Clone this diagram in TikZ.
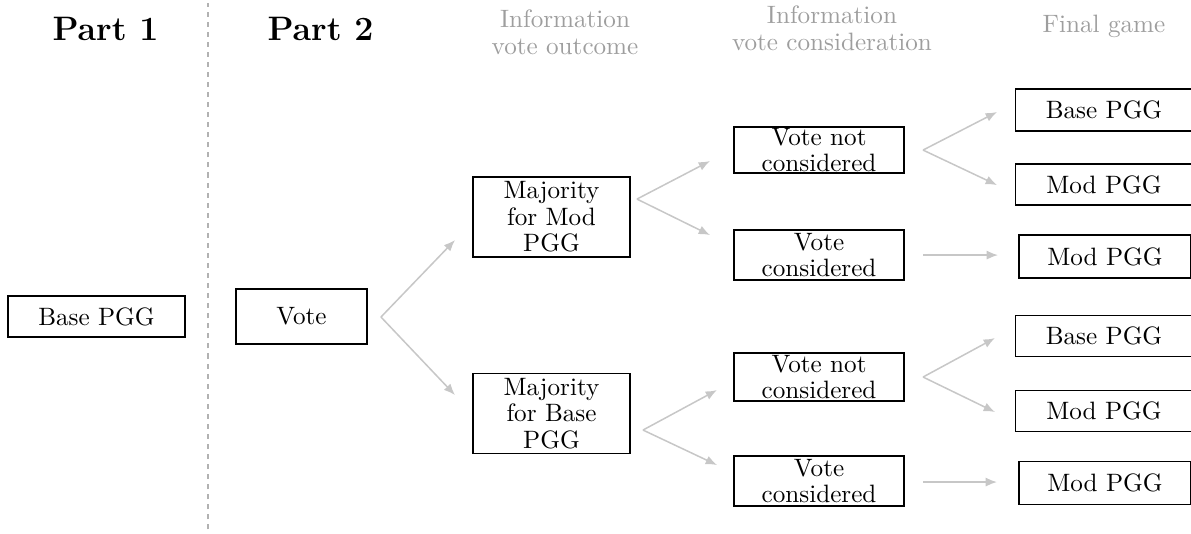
\documentclass[tikz,border=0pt]{standalone}
\usepackage{tikz}
\usetikzlibrary{arrows.meta,positioning,calc}
\definecolor{lightink}{gray}{0.62}
\definecolor{arrowgray}{gray}{0.78}

\begin{document}
\begin{tikzpicture}[font=\fontsize{10}{10.5}\selectfont,
    box/.style={draw,line width=0.5pt,inner sep=0pt,align=center},
    hdr/.style={text=lightink,inner sep=0pt,align=center},
    part/.style={inner sep=0pt,font=\fontsize{13.5}{16}\selectfont\bfseries},
    arr/.style={draw=arrowgray,line width=0.6pt,
                -{Latex[length=4.5pt,width=3.6pt]}}]
  \useasboundingbox (0,0) rectangle (16.65,7.452);

  % headings
  \node[part] (part1) at (1.475,7.046) {Part 1};
  \node[part] (part2) at (4.481,7.046) {Part 2};
  \node[hdr,anchor=north] (hout) at (7.899,7.317) {Information\\vote outcome};
  \node[hdr,anchor=north] (hcons) at (11.631,7.373) {Information\\vote consideration};
  \node[hdr,anchor=base] (hfin) at (15.434,6.997) {Final game};
  \draw[black!30,dash pattern=on 2pt off 2pt,line width=0.5pt] (2.908,0.05) -- (2.908,7.41);

  % part 1 and the vote
  \node[box,minimum width=2.474cm,minimum height=0.573cm] (base0) at (1.349,3.027) {Base PGG};
  \node[box,minimum width=1.831cm,minimum height=0.769cm] (vote) at (4.215,3.027) {Vote};

  % vote outcome
  \node[box,minimum width=2.195cm,minimum height=1.118cm] (majmod) at (7.710,4.418) {Majority\\for Mod\\PGG};
  \node[box,minimum width=2.195cm,minimum height=1.110cm] (majbase) at (7.710,1.671) {Majority\\for Base\\PGG};

  % vote consideration
  \node[box,minimum width=2.377cm,minimum height=0.643cm] (notmod) at (11.450,5.354) {Vote not\\considered};
  \node[box,minimum width=2.377cm,minimum height=0.699cm] (consmod) at (11.450,3.886) {Vote\\considered};
  \node[box,minimum width=2.377cm,minimum height=0.671cm] (notbase) at (11.450,2.181) {Vote not\\considered};
  \node[box,minimum width=2.377cm,minimum height=0.699cm] (consbase) at (11.450,0.727) {Vote\\considered};

  % final game
  \node[box,minimum width=2.470cm,minimum height=0.587cm] (fin1) at (15.434,5.914) {Base PGG};
  \node[box,minimum width=2.470cm,minimum height=0.573cm] (fin2) at (15.434,4.872) {Mod PGG};
  \node[box,minimum width=2.405cm,minimum height=0.601cm] (fin3) at (15.448,3.866) {Mod PGG};
  \node[box,minimum width=2.470cm,minimum height=0.573cm] (fin4) at (15.434,2.754) {Base PGG};
  \node[box,minimum width=2.470cm,minimum height=0.573cm] (fin5) at (15.434,1.706) {Mod PGG};
  \node[box,minimum width=2.405cm,minimum height=0.601cm] (fin6) at (15.448,0.699) {Mod PGG};

  % fork points and arrow ends
  \coordinate (vfork) at (5.326,3.020);
  \coordinate (vup) at (6.361,4.096);
  \coordinate (vdown) at (6.361,1.929);
  \coordinate (mfork) at (8.905,4.669);
  \coordinate (mup) at (9.926,5.201);
  \coordinate (mdown) at (9.926,4.166);
  \coordinate (bfork) at (8.989,1.440);
  \coordinate (bup) at (10.024,1.999);
  \coordinate (bdown) at (10.024,0.951);
  \coordinate (nmfork) at (12.904,5.354);
  \coordinate (nmup) at (13.938,5.886);
  \coordinate (nmdown) at (13.938,4.865);
  \coordinate (cmstart) at (12.904,3.886);
  \coordinate (cmend) at (13.952,3.886);
  \coordinate (nbfork) at (12.904,2.181);
  \coordinate (nbup) at (13.910,2.726);
  \coordinate (nbdown) at (13.910,1.692);
  \coordinate (cbstart) at (12.904,0.713);
  \coordinate (cbend) at (13.938,0.713);

  % connectors
  \draw[arr] (vfork) -- (vup);
  \draw[arr] (vfork) -- (vdown);
  \draw[arr] (mfork) -- (mup);
  \draw[arr] (mfork) -- (mdown);
  \draw[arr] (bfork) -- (bup);
  \draw[arr] (bfork) -- (bdown);
  \draw[arr] (nmfork) -- (nmup);
  \draw[arr] (nmfork) -- (nmdown);
  \draw[arr] (cmstart) -- (cmend);
  \draw[arr] (nbfork) -- (nbup);
  \draw[arr] (nbfork) -- (nbdown);
  \draw[arr] (cbstart) -- (cbend);
\end{tikzpicture}
\end{document}
